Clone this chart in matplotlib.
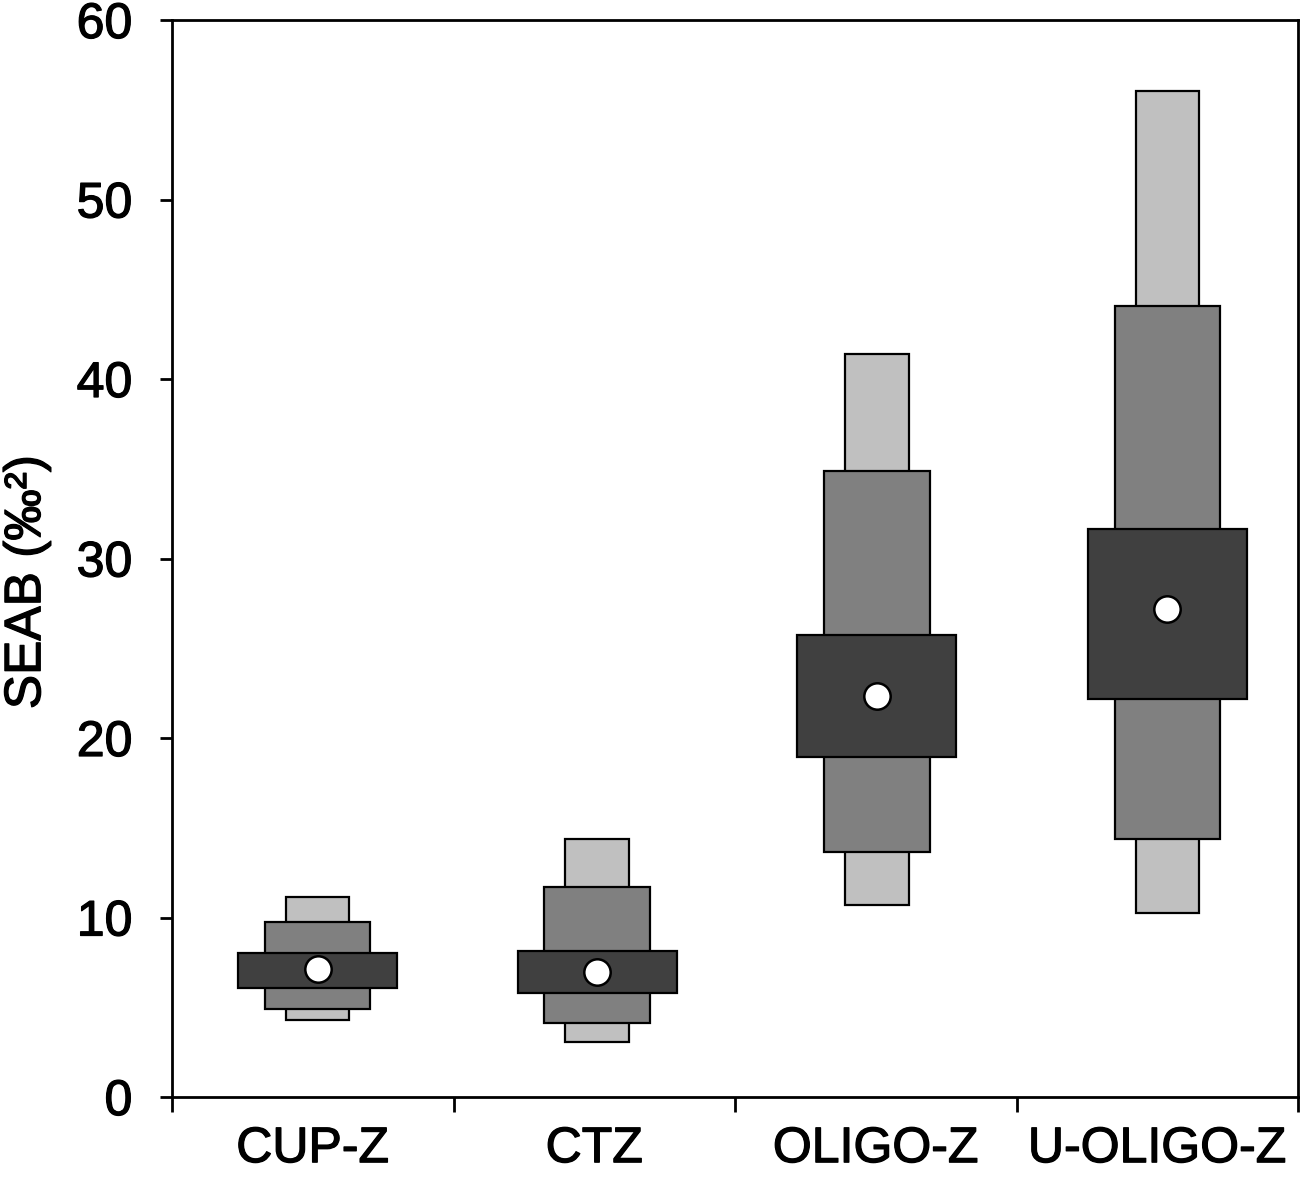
import numpy as np
import matplotlib
matplotlib.use("Agg")
import matplotlib.pyplot as plt
import matplotlib.patheffects as pe

plt.rcParams['font.family'] = ['Liberation Sans', 'DejaVu Sans']

zones = ["CUP-Z", "CTZ", "OLIGO-Z", "U-OLIGO-Z"]
box_x = [1.017, 2.01, 3.004, 4.036]

# credible intervals of SEA_B (per mil squared)
ci95_low = [4.29, 3.08, 10.70, 10.25]
ci95_high = [11.13, 14.37, 41.39, 56.05]
ci75_low = [4.89, 4.14, 13.65, 14.37]
ci75_high = [9.77, 11.72, 34.89, 44.07]
ci50_low = [6.06, 5.78, 18.94, 22.17]
ci50_high = [8.01, 8.15, 25.74, 31.64]
mode = [7.11, 6.98, 22.34, 27.20]

fig = plt.figure(figsize=(13.05, 11.83), dpi=100)
ax = fig.add_axes([172/1305, 1 - 1097/1183, (1298-172)/1305, (1097-20)/1183])

levels = [
    (ci95_low, ci95_high, 0.225, '#c0c0c0'),
    (ci75_low, ci75_high, 0.375, '#808080'),
    (ci50_low, ci50_high, 0.565, '#404040'),
]
for lo, hi, w, col in levels:
    lo = np.array(lo)
    hi = np.array(hi)
    ax.bar(box_x, hi - lo, bottom=lo, width=w, color=col,
           edgecolor='black', linewidth=1.6, zorder=2)

ax.plot(box_x, mode, 'o', markersize=19, markerfacecolor='white',
        markeredgecolor='black', markeredgewidth=1.8, zorder=3)

ax.set_xlim(0.5, 4.5)
ax.set_ylim(0, 60)
ax.set_yticks(np.arange(0, 61, 10))
ax.set_xticks([1, 2, 3, 4])
ax.set_xticklabels(zones)
ax.set_xticks([0.5, 1.5, 2.5, 3.5, 4.5], minor=True)

for s in ax.spines.values():
    s.set_linewidth(2)

ax.tick_params(axis='y', direction='out', length=8.5, width=2, pad=20, labelsize=36)
ax.tick_params(axis='x', which='major', length=0, pad=21, labelsize=36)
ax.tick_params(axis='x', which='minor', direction='out', length=11, width=2)

ax.set_ylabel("SEAB (\u2030\u00b2)", fontsize=37, va='center')
ax.yaxis.set_label_coords(-0.129, 0.478)

thick = [pe.withStroke(linewidth=0.9, foreground='black')]
for t in ax.get_xticklabels() + ax.get_yticklabels() + [ax.yaxis.label]:
    t.set_path_effects(thick)

fig.savefig("out.png", dpi=100)
